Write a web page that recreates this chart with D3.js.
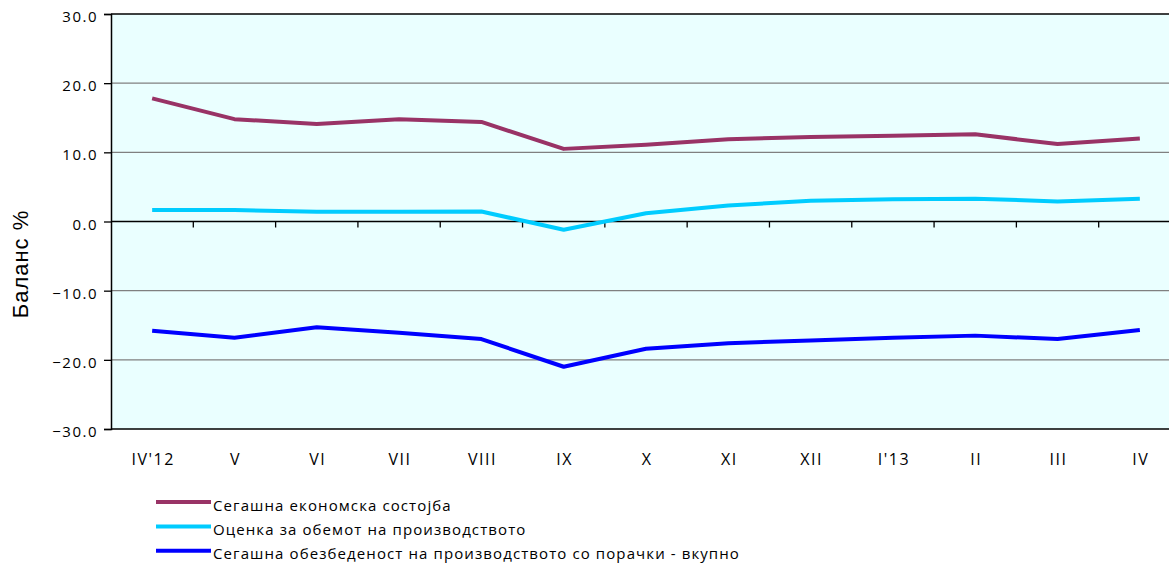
<!DOCTYPE html>
<html>
<head>
<meta charset="utf-8">
<script src="https://cdn.jsdelivr.net/npm/d3@7"></script>
<style>
  body { margin: 0; background: #ffffff; }
  svg { display: block; }
</style>
</head>
<body>
<div id="chart"></div>
<script>
// categories (months)
var months = ["IV'12", "V", "VI", "VII", "VIII", "IX", "X", "XI", "XII", "I'13", "II", "III", "IV"];

// series values
var economic = [17.8, 14.8, 14.1, 14.8, 14.4, 10.5, 11.1, 11.9, 12.2, 12.4, 12.6, 11.2, 12.0];
var production = [1.65, 1.65, 1.4, 1.4, 1.45, -1.2, 1.2, 2.3, 3.0, 3.2, 3.3, 2.9, 3.3];
var orders = [-15.8, -16.8, -15.3, -16.1, -17.0, -21.0, -18.4, -17.6, -17.2, -16.8, -16.5, -17.0, -15.7];

var seriesNames = [
    "Сегашна економска состојба",
    "Оценка за обемот на производството",
    "Сегашна обезбеденост на производството со порачки - вкупно"
];

var yTicks = [-30, -20, -10, 0, 10, 20, 30];

var series = [
    { name: seriesNames[0], values: economic, color: "#993366" },
    { name: seriesNames[1], values: production, color: "#00ccff" },
    { name: seriesNames[2], values: orders, color: "#0000ff" }
];

var svgWidth = 1169;
var svgHeight = 564;

var chartMargin = { top: 14, left: 111 };
var chartWidth = 1070;
var chartHeight = 415;

var font = "'Open Sans', sans-serif";

var svg = d3.select("#chart")
    .append("svg")
    .attr("width", svgWidth)
    .attr("height", svgHeight);

var chartGroup = svg.append("g")
    .attr("transform", `translate(${chartMargin.left}, ${chartMargin.top})`);

// scales
var xScale = d3.scaleBand()
    .domain(months)
    .range([0, chartWidth]);

var yScale = d3.scaleLinear()
    .domain([-30, 30])
    .range([chartHeight, 0]);

// plot background
chartGroup.append("rect")
    .attr("width", chartWidth)
    .attr("height", chartHeight)
    .attr("fill", "#eaffff");

// gridlines
chartGroup.selectAll(".grid")
    .data(yTicks.filter(d => d !== 0 && d !== 30 && d !== -30))
    .enter()
    .append("line")
    .attr("x1", 0)
    .attr("x2", chartWidth)
    .attr("y1", d => yScale(d))
    .attr("y2", d => yScale(d))
    .attr("stroke", "#808080")
    .attr("stroke-width", 1.3);

// top and bottom border
chartGroup.append("line")
    .attr("x1", 0).attr("x2", chartWidth)
    .attr("y1", yScale(30)).attr("y2", yScale(30))
    .attr("stroke", "#000").attr("stroke-width", 1.3);
chartGroup.append("line")
    .attr("x1", 0).attr("x2", chartWidth)
    .attr("y1", yScale(-30)).attr("y2", yScale(-30))
    .attr("stroke", "#000").attr("stroke-width", 1.3);

// y axis
var yAxis = d3.axisLeft(yScale)
    .tickValues(yTicks)
    .tickSize(7)
    .tickPadding(6)
    .tickFormat(d3.format(".1f"));

var yAxisG = chartGroup.append("g").call(yAxis);
yAxisG.select(".domain").attr("stroke", "#000").attr("stroke-width", 1.5);
yAxisG.selectAll(".tick line").attr("stroke", "#000").attr("stroke-width", 1.3);
yAxisG.selectAll("text")
    .attr("font-family", font)
    .attr("font-size", "15px")
    .attr("letter-spacing", "1.5px")
    .attr("dy", "0.5em")
    .attr("fill", "#000");

// x axis on zero line, ticks at category boundaries
var zeroG = chartGroup.append("g")
    .attr("transform", `translate(0, ${yScale(0)})`);
zeroG.append("line")
    .attr("x1", 0).attr("x2", chartWidth)
    .attr("stroke", "#000").attr("stroke-width", 1.3);
zeroG.selectAll(".xtick")
    .data(months.slice(1))
    .enter()
    .append("line")
    .attr("x1", d => xScale(d))
    .attr("x2", d => xScale(d))
    .attr("y1", 0)
    .attr("y2", 6)
    .attr("stroke", "#000")
    .attr("stroke-width", 1.3);

// x labels below plot
chartGroup.selectAll(".xlabel")
    .data(months)
    .enter()
    .append("text")
    .attr("x", d => xScale(d) + xScale.bandwidth() / 2 + 1)
    .attr("y", 451)
    .attr("text-anchor", "middle")
    .attr("font-family", font)
    .attr("font-size", "16px")
    .attr("letter-spacing", "1.5px")
    .attr("fill", "#000")
    .text(d => d);

// lines
var line = d3.line()
    .x((d, i) => xScale(months[i]) + xScale.bandwidth() / 2)
    .y(d => yScale(d));

chartGroup.selectAll(".series")
    .data(series)
    .enter()
    .append("path")
    .attr("d", d => line(d.values))
    .attr("fill", "none")
    .attr("stroke", d => d.color)
    .attr("stroke-width", 4)
    .attr("stroke-linejoin", "round");

// axis label
svg.append("text")
    .attr("transform", "rotate(-90)")
    .attr("x", -264)
    .attr("y", 28)
    .attr("text-anchor", "middle")
    .attr("font-family", "'Liberation Sans', Arial, sans-serif")
    .attr("font-size", "22px")
    .attr("letter-spacing", "1px")
    .attr("fill", "#000")
    .text("Баланс %");

// legend
var legend = svg.selectAll(".legend")
    .data(series)
    .enter()
    .append("g")
    .attr("transform", (d, i) => `translate(156, ${502 + i * 24.4})`);

legend.append("line")
    .attr("x1", 0).attr("x2", 55)
    .attr("stroke", d => d.color)
    .attr("stroke-width", 4);

legend.append("text")
    .attr("x", 57)
    .attr("y", 8.5)
    .attr("font-family", font)
    .attr("font-size", "15px")
    .attr("letter-spacing", "1.1px")
    .attr("fill", "#000")
    .text(d => d.name);
</script>
</body>
</html>
